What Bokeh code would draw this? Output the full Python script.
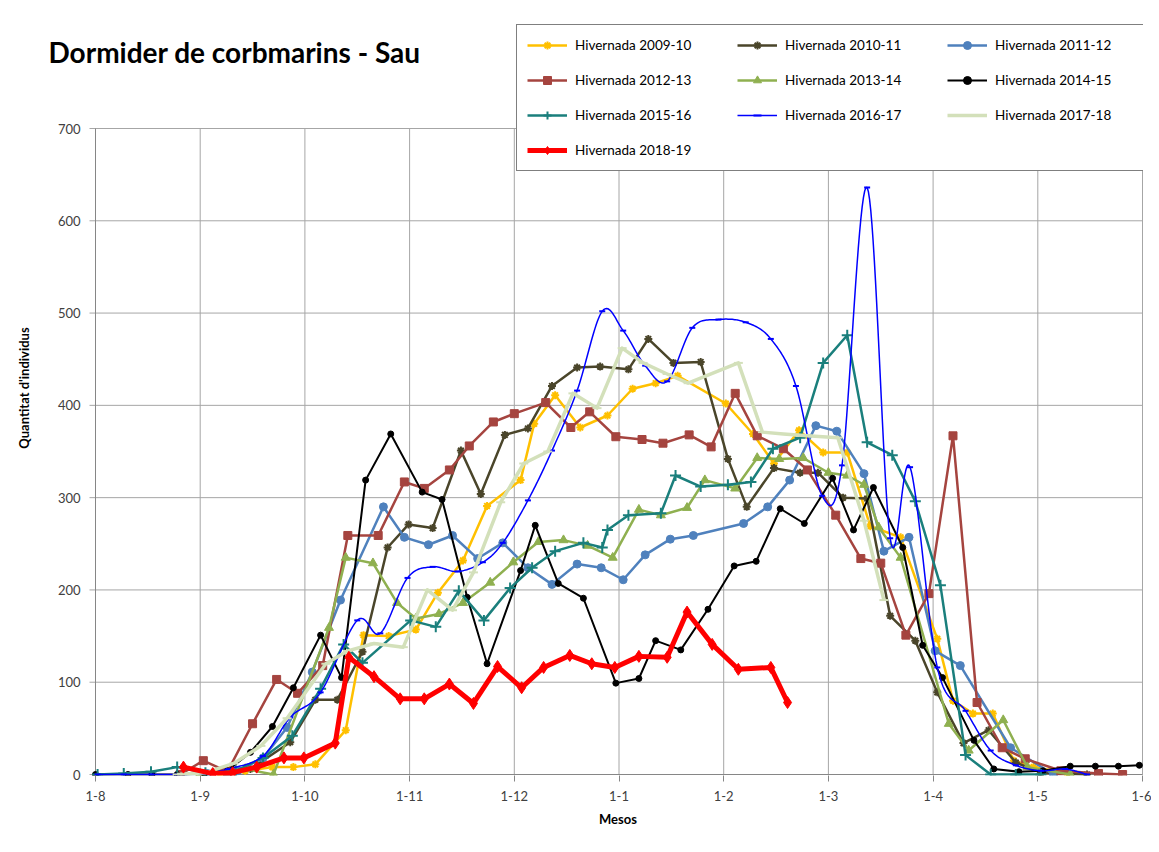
import numpy as np
from bokeh.plotting import figure
from bokeh.models import Range1d, FixedTicker, Legend, LegendItem, Label, Title
from bokeh.embed import file_html
from bokeh.resources import INLINE

# ---- axis categories (x = months since 1 August) ----
month_pos = [0, 1, 2, 3, 4, 5, 6, 7, 8, 9, 10]
month_labels = ["1-8", "1-9", "1-10", "1-11", "1-12", "1-1", "1-2", "1-3", "1-4", "1-5", "1-6"]
y_ticks = [0, 100, 200, 300, 400, 500, 600, 700]

# ---- series data ----
x_0910 = [1.19, 1.43, 1.69, 1.89, 2.10, 2.39, 2.56, 2.80, 3.06, 3.27, 3.51, 3.74, 4.06, 4.19, 4.39, 4.63, 4.89, 5.13,
          5.35, 5.56, 6.02, 6.28, 6.48, 6.72, 6.95, 7.18, 7.40, 7.69, 8.04, 8.19, 8.38, 8.57, 8.77, 8.96, 9.28]
y_0910 = [2, 4, 8, 8, 11, 48, 151, 150, 157, 197, 232, 291, 319, 380, 411, 376, 389, 418,
          424, 432, 402, 369, 337, 373, 349, 349, 269, 257, 147, 80, 66, 66, 15, 8, 2]

x_1011 = [1.04, 1.48, 1.86, 2.10, 2.31, 2.55, 2.79, 2.99, 3.22, 3.49, 3.68, 3.91, 4.13, 4.36, 4.60, 4.82, 5.09, 5.28,
          5.52, 5.78, 6.04, 6.22, 6.48, 6.73, 6.90, 7.14, 7.37, 7.59, 7.83, 8.04, 8.29, 8.53, 8.79, 9.03, 9.47]
y_1011 = [1, 6, 35, 81, 81, 133, 246, 271, 267, 351, 304, 368, 375, 421, 441, 442, 439, 472,
          446, 447, 342, 290, 332, 327, 327, 300, 299, 172, 145, 89, 34, 48, 13, 2, 0]

x_1112 = [0.81, 1.07, 1.36, 1.60, 1.83, 2.07, 2.34, 2.75, 2.95, 3.18, 3.41, 3.65, 3.89, 4.13, 4.36, 4.60, 4.83, 5.04,
          5.25, 5.49, 5.71, 6.19, 6.42, 6.63, 6.88, 7.08, 7.34, 7.53, 7.77, 8.02, 8.26, 8.74, 9.15]
y_1112 = [0, 1, 4, 18, 51, 111, 189, 290, 257, 249, 259, 234, 251, 224, 206, 228, 224, 211,
          238, 255, 259, 272, 290, 319, 378, 372, 326, 242, 257, 134, 118, 29, 0]

x_1213 = [0.81, 1.03, 1.26, 1.50, 1.73, 1.93, 2.17, 2.41, 2.70, 2.95, 3.14, 3.38, 3.57, 3.80, 4.00, 4.30, 4.54, 4.72,
          4.97, 5.22, 5.42, 5.67, 5.88, 6.11, 6.32, 6.57, 6.80, 7.07, 7.31, 7.50, 7.74, 7.96, 8.19, 8.42, 8.66, 8.88,
          9.22, 9.58, 9.81]
y_1213 = [0, 15, 3, 55, 103, 88, 118, 259, 259, 317, 310, 330, 356, 382, 391, 403, 376, 393,
          366, 363, 359, 368, 355, 413, 367, 353, 330, 281, 234, 229, 151, 196, 367, 78, 29, 17,
          4, 1, 0]

x_1314 = [1.00, 1.43, 1.70, 2.23, 2.39, 2.65, 2.88, 3.06, 3.28, 3.51, 3.77, 3.99, 4.23, 4.47, 4.70, 4.94, 5.19, 5.40,
          5.65, 5.82, 6.11, 6.32, 6.53, 6.76, 7.00, 7.18, 7.34, 7.48, 7.69, 8.15, 8.34, 8.67, 8.90, 9.31]
y_1314 = [1, 6, 0, 159, 235, 229, 186, 169, 174, 186, 208, 230, 252, 254, 248, 235, 287, 281,
          289, 319, 310, 343, 342, 343, 327, 324, 314, 268, 235, 55, 26, 59, 8, 0]

x_1415 = [0.00, 0.31, 0.54, 0.78, 1.04, 1.26, 1.48, 1.69, 1.89, 2.15, 2.35, 2.58, 2.82, 3.12, 3.31, 3.55, 3.74, 4.06,
          4.20, 4.42, 4.66, 4.97, 5.19, 5.35, 5.59, 5.85, 6.10, 6.31, 6.54, 6.77, 7.04, 7.24, 7.43, 7.71, 7.90, 8.09,
          8.39, 8.58, 8.82, 9.05, 9.31, 9.55, 9.77, 9.97]
y_1415 = [0, 0, 0, 0, 1, 4, 24, 52, 94, 151, 105, 319, 369, 306, 298, 192, 120, 221,
          270, 207, 191, 99, 104, 145, 135, 179, 226, 231, 288, 272, 321, 265, 311, 246, 140, 105,
          37, 6, 3, 4, 9, 9, 9, 10]

x_1516 = [0.02, 0.27, 0.53, 0.78, 1.05, 1.34, 1.60, 1.88, 2.15, 2.37, 2.55, 3.01, 3.25, 3.47, 3.71, 3.96, 4.17, 4.39,
          4.66, 4.84, 4.89, 5.09, 5.40, 5.54, 5.78, 6.04, 6.26, 6.47, 6.73, 6.95, 7.18, 7.37, 7.61, 7.83, 8.07, 8.31,
          8.55, 8.79, 9.03]
y_1516 = [0, 1, 3, 8, 2, 4, 18, 42, 93, 141, 121, 167, 160, 199, 167, 202, 224, 242,
          251, 246, 265, 281, 283, 324, 312, 314, 317, 353, 365, 446, 476, 360, 346, 296, 205, 21,
          0, 0, 0]

x_1617 = [0.02, 0.27, 0.53, 0.78, 1.03, 1.27, 1.60, 1.86, 2.15, 2.50, 2.72, 2.98, 3.22, 3.46, 3.70, 3.89, 4.13, 4.36,
          4.60, 4.84, 5.04, 5.25, 5.46, 5.70, 5.95, 6.21, 6.45, 6.69, 6.94, 7.13, 7.37, 7.59, 7.78, 8.04, 8.31, 8.55,
          8.79, 9.03, 9.26, 9.47]
y_1617 = [0, 0, 0, 0, 1, 6, 20, 62, 89, 167, 153, 213, 225, 220, 230, 251, 297, 351,
          416, 502, 481, 443, 426, 484, 493, 490, 472, 421, 302, 335, 636, 256, 333, 116, 69, 26,
          10, 4, 6, 0]

x_1718 = [0.78, 1.05, 1.32, 1.58, 1.83, 2.20, 2.41, 2.66, 2.94, 3.17, 3.41, 3.61, 3.87, 4.09, 4.32, 4.56, 4.79, 5.03,
          5.23, 5.46, 5.66, 6.14, 6.37, 6.57, 6.80, 7.09, 7.34, 7.53]
y_1718 = [0, 2, 12, 31, 61, 120, 134, 142, 138, 200, 178, 219, 295, 337, 350, 413, 397, 462,
          446, 434, 424, 446, 371, 369, 367, 365, 275, 189]

x_1819 = [0.84, 1.12, 1.31, 1.54, 1.80, 1.99, 2.29, 2.42, 2.66, 2.91, 3.14, 3.38, 3.61, 3.84, 4.07, 4.28, 4.53, 4.74,
          4.96, 5.19, 5.46, 5.65, 5.89, 6.14, 6.45, 6.61]
y_1819 = [8, 1, 2, 8, 18, 18, 34, 127, 106, 82, 82, 98, 77, 117, 94, 116, 129, 120,
          116, 128, 127, 176, 141, 114, 116, 78]

series_names = ["Hivernada 2009-10", "Hivernada 2010-11", "Hivernada 2011-12", "Hivernada 2012-13",
                "Hivernada 2013-14", "Hivernada 2014-15", "Hivernada 2015-16", "Hivernada 2016-17",
                "Hivernada 2017-18", "Hivernada 2018-19"]
series_x = [x_0910, x_1011, x_1112, x_1213, x_1314, x_1415, x_1516, x_1617, x_1718, x_1819]
series_y = [y_0910, y_1011, y_1112, y_1213, y_1314, y_1415, y_1516, y_1617, y_1718, y_1819]

chart_title = "Dormider de corbmarins - Sau"
x_title = "Mesos"
y_title = "Quantitat d'individus"

# ---- styles ----
styles = [
    dict(color="#FFC000", lw=2.5, marker="asterisk", size=8, smooth=False),
    dict(color="#4A452A", lw=2.5, marker="asterisk", size=8, smooth=False),
    dict(color="#4F81BD", lw=2.5, marker="circle", size=8, smooth=False),
    dict(color="#A5443F", lw=2.5, marker="square", size=8, smooth=False),
    dict(color="#8FB050", lw=2.5, marker="triangle", size=9, smooth=False),
    dict(color="#000000", lw=2.0, marker="circle", size=6, smooth=False),
    dict(color="#1A7F7C", lw=2.5, marker="cross", size=11, smooth=False),
    dict(color="#0000FF", lw=1.5, marker="dash", size=6, smooth=True),
    dict(color="#D3E0BA", lw=3.5, marker="dash", size=9, smooth=False),
    dict(color="#FF0000", lw=5.0, marker="diamond", size=12, smooth=False),
]


def smooth_curve(xs, ys, n=20):
    P = np.column_stack([np.asarray(xs, float), np.asarray(ys, float)])
    m = len(P)
    out = [P[0]]
    t = np.linspace(0, 1, n + 1)[1:, None]
    for i in range(m - 1):
        p0 = P[i - 1] if i > 0 else P[i]
        p1, p2 = P[i], P[i + 1]
        p3 = P[i + 2] if i + 2 < m else P[i + 1]
        c1 = p1 + (p2 - p0) / 6.0
        c2 = p2 - (p3 - p1) / 6.0
        seg = (1 - t) ** 3 * p1 + 3 * (1 - t) ** 2 * t * c1 + 3 * (1 - t) * t ** 2 * c2 + t ** 3 * p2
        out.extend(seg)
    out = np.array(out)
    return out[:, 0], out[:, 1]


FONT = "Lato"
GRID = "#A6A6A6"
AXIS = "#868686"

# ---- layout (pixels) ----
PX_MONTH = 104.7           # pixels per month
PX_UNIT = 646.0 / 700.0    # pixels per individual
ZERO_X, ZERO_Y = 95, 774   # pixel position of (1-8, 0)
F_LEFT, F_TOP, F_RIGHT, F_BOTTOM = 40, 0, 1143, 775
W, H = 1151, 836
TICK = 6

x_lo = -(ZERO_X - F_LEFT) / PX_MONTH
x_hi = (F_RIGHT - ZERO_X) / PX_MONTH
y_lo = -(F_BOTTOM - ZERO_Y) / PX_UNIT
y_hi = (ZERO_Y - F_TOP) / PX_UNIT

p = figure(width=W, height=H, x_range=Range1d(x_lo, x_hi), y_range=Range1d(y_lo, y_hi),
           output_backend="svg", toolbar_location=None, title=None,
           min_border_left=F_LEFT, min_border_right=W - F_RIGHT, min_border_top=F_TOP,
           min_border_bottom=H - F_BOTTOM)
p.background_fill_color = "white"
p.border_fill_color = "white"
p.outline_line_color = None
p.grid.visible = False

# gridlines limited to the 1-8..1-6 / 0..700 plot area; horizontal ones start with the outer tick mark
tick_start = -TICK / PX_MONTH
p.segment(x0=[tick_start] * len(y_ticks), y0=y_ticks, x1=[month_pos[-1]] * len(y_ticks), y1=y_ticks,
          line_color=GRID, line_width=1)
p.segment(x0=month_pos, y0=[y_ticks[0]] * len(month_pos), x1=month_pos, y1=[y_ticks[-1]] * len(month_pos),
          line_color=GRID, line_width=1)
p.segment(x0=[month_pos[0]], y0=[y_ticks[0]], x1=[month_pos[0]], y1=[y_ticks[-1]], line_color=AXIS, line_width=1)
p.segment(x0=[month_pos[0]], y0=[y_ticks[0]], x1=[month_pos[-1]], y1=[y_ticks[0]], line_color=AXIS, line_width=1)

p.xaxis.ticker = FixedTicker(ticks=month_pos)
p.xaxis.major_label_overrides = {pos: lab for pos, lab in zip(month_pos, month_labels)}
p.yaxis.ticker = FixedTicker(ticks=y_ticks)

p.yaxis.axis_label = y_title
for ax in (p.xaxis[0], p.yaxis[0]):
    ax.axis_line_color = None
    ax.minor_tick_line_color = None
    ax.major_label_text_font = FONT
    ax.major_label_text_font_size = "13px"
    ax.major_label_text_color = "#404040"
    ax.axis_label_text_font = FONT
    ax.axis_label_text_font_size = "13px"
    ax.axis_label_text_font_style = "bold"
    ax.axis_label_text_color = "black"
p.xaxis.major_tick_line_color = AXIS
p.xaxis.major_tick_out = TICK
p.xaxis.major_tick_in = 0
p.xaxis.major_label_standoff = 9

# y tick labels sit just left of the 1-8 line (which lies inside the frame)
p.yaxis.major_tick_line_color = None
p.yaxis.major_tick_out = 0
p.yaxis.major_tick_in = 0
p.yaxis.major_label_standoff = -(ZERO_X - F_LEFT - 15)
p.yaxis.axis_label_standoff = 23

# x-axis title, centred under the 1-8..1-6 plot area
x_title_center = ZERO_X + PX_MONTH * (month_pos[0] + month_pos[-1]) / 2.0
p.add_layout(Title(text=x_title, text_font=FONT, text_font_size="13px", text_font_style="bold",
                   text_color="black", align="left", offset=x_title_center - F_LEFT - 20, standoff=10),
             "below")

items = []
for name, xs, ys, st in zip(series_names, series_x, series_y, styles):
    if st["smooth"]:
        lx, ly = smooth_curve(xs, ys)
    else:
        lx, ly = xs, ys
    r_line = p.line(lx, ly, line_color=st["color"], line_width=st["lw"], line_join="round")
    mk = st["marker"]
    if mk in ("asterisk", "cross", "dash", "x"):
        r_mark = p.scatter(xs, ys, marker=mk, size=st["size"], line_color=st["color"], line_width=2)
    else:
        r_mark = p.scatter(xs, ys, marker=mk, size=st["size"], fill_color=st["color"],
                           line_color=st["color"], line_width=1)
    items.append(LegendItem(label=name, renderers=[r_line, r_mark]))

# chart title (drawn inside the frame)
title_x = (48 - ZERO_X) / PX_MONTH
title_y = (ZERO_Y - 51) / PX_UNIT
p.add_layout(Label(x=title_x, y=title_y, text=chart_title, text_font=FONT, text_font_size="28px",
                   text_font_style="bold", text_color="black", text_baseline="middle", text_align="left"))

legend = Legend(items=items, orientation="horizontal", ncols=3,
                location=(516 - F_LEFT, F_BOTTOM - 171),
                label_text_font=FONT, label_text_font_size="13.5px", label_text_color="black",
                glyph_width=40, glyph_height=20, label_width=147, label_height=20,
                spacing=15, padding=10, label_standoff=8, margin=0,
                border_line_color="black", border_line_width=1,
                background_fill_color="white", background_fill_alpha=1.0)
p.add_layout(legend)

open("out.html", "w").write(file_html(p, INLINE))
